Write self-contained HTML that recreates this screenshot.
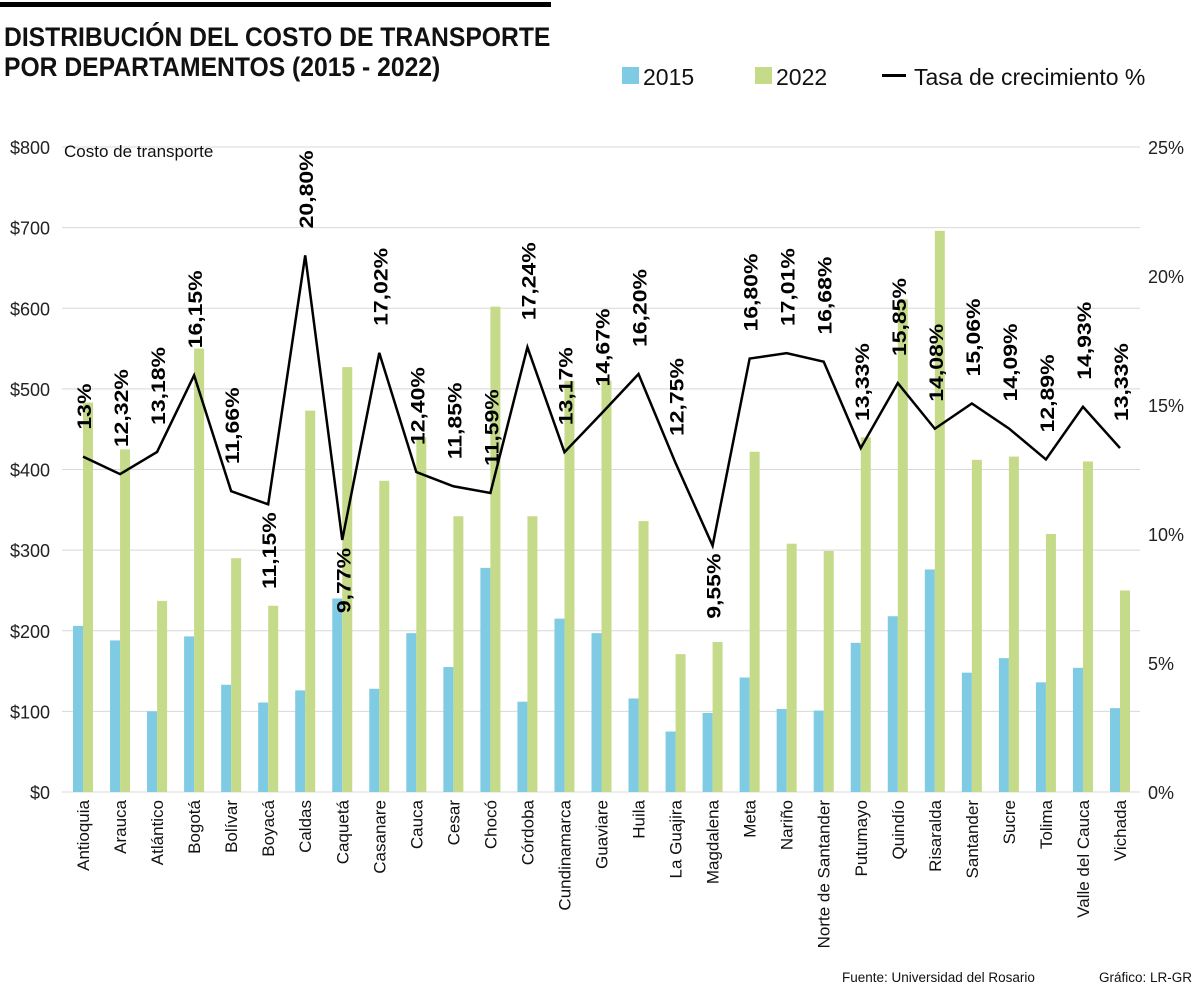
<!DOCTYPE html>
<html><head><meta charset="utf-8"><style>
html,body{margin:0;padding:0;background:#fff}
svg{display:block}
text{font-family:"Liberation Sans",sans-serif}
</style></head><body>
<svg width="1200" height="993" viewBox="0 0 1200 993" xmlns="http://www.w3.org/2000/svg">
<rect x="0" y="2" width="551" height="5" fill="#000"/>
<g transform="translate(4,0) scale(0.915,1)">
<text x="0" y="46" font-size="27" font-weight="bold" fill="#111">DISTRIBUCIÓN DEL COSTO DE TRANSPORTE</text>
<text x="0" y="76" font-size="27" font-weight="bold" fill="#111">POR DEPARTAMENTOS (2015 - 2022)</text>
</g>
<rect x="622" y="67" width="17" height="17" fill="#7ecbe3"/>
<text x="643" y="85" font-size="23" fill="#111">2015</text>
<rect x="755" y="67" width="17" height="17" fill="#c5db8a"/>
<text x="776" y="85" font-size="23" fill="#111">2022</text>
<rect x="882" y="74" width="24" height="3" fill="#000"/>
<text x="914" y="85" font-size="23" fill="#111">Tasa de crecimiento %</text>
<g id="grid" stroke="#d8d8d8" stroke-width="1"></g>
<g id="ax" font-size="18" fill="#222"></g>
<g id="bars"></g>
<polyline id="line" fill="none" stroke="#000" stroke-width="2.5" stroke-linejoin="miter"/>
<g id="lbl" font-size="23" font-weight="bold" fill="#000"></g>
<g id="cat" font-size="17" fill="#111"></g>
<text x="64" y="157" font-size="17" fill="#111">Costo de transporte</text>
<text x="842" y="982" font-size="13.5" fill="#111">Fuente: Universidad del Rosario</text>
<text x="1099" y="982" font-size="13.5" fill="#111">Gráfico: LR-GR</text>
</svg>
<script>
const NS="http://www.w3.org/2000/svg";
function el(p,t,a,txt){const e=document.createElementNS(NS,t);for(const k in a)e.setAttribute(k,a[k]);if(txt!==undefined)e.textContent=txt;document.getElementById(p).appendChild(e);return e;}
const y0=792,ppd=645/800,ppp=645/25;
for(let i=0;i<=8;i++){const y=y0-i*100*ppd;
 el("grid","line",{x1:62,x2:1140,y1:y,y2:y});
 el("ax","text",{x:50,y:y+7,"text-anchor":"end"},"$"+i*100);
}
for(let i=0;i<=5;i++){el("ax","text",{x:1148,y:y0-i*5*ppp+7},i*5+"%");}
const d=[["Antioquia",206,483,"13",13,1],["Arauca",188,425,"12,32",12.32,1],["Atlántico",100,237,"13,18",13.18,1],["Bogotá",193,550,"16,15",16.15,1],["Bolívar",133,290,"11,66",11.66,1],["Boyacá",111,231,"11,15",11.15,0],["Caldas",126,473,"20,80",20.8,1],["Caquetá",240,527,"9,77",9.77,0],["Casanare",128,386,"17,02",17.02,1],["Cauca",197,440,"12,40",12.4,1],["Cesar",155,342,"11,85",11.85,1],["Chocó",278,602,"11,59",11.59,1],["Córdoba",112,342,"17,24",17.24,1],["Cundinamarca",215,510,"13,17",13.17,1],["Guaviare",197,510,"14,67",14.67,1],["Huila",116,336,"16,20",16.2,1],["La Guajira",75,171,"12,75",12.75,1],["Magdalena",98,186,"9,55",9.55,0],["Meta",142,422,"16,80",16.8,1],["Nariño",103,308,"17,01",17.01,1],["Norte de Santander",101,299,"16,68",16.68,1],["Putumayo",185,440,"13,33",13.33,1],["Quindío",218,611,"15,85",15.85,1],["Risaralda",276,696,"14,08",14.08,1],["Santander",148,412,"15,06",15.06,1],["Sucre",166,416,"14,09",14.09,1],["Tolima",136,320,"12,89",12.89,1],["Valle del Cauca",154,410,"14,93",14.93,1],["Vichada",104,250,"13,33",13.33,1]];
const step=1037/28;let pts=[];
d.forEach((r,i)=>{const c=83+i*step;
 el("bars","rect",{x:c-10,y:y0-r[1]*ppd,width:10,height:r[1]*ppd,fill:"#7ecbe3"});
 el("bars","rect",{x:c,y:y0-r[2]*ppd,width:10,height:r[2]*ppd,fill:"#c5db8a"});
 const py=y0-r[4]*ppp;pts.push(c+","+py);
 const ly=r[5]?py-27:py+8;
 el("lbl","text",{x:0,y:0,transform:`translate(${c+8} ${ly}) rotate(-90) scale(1,0.85)`,"text-anchor":r[5]?"start":"end"},r[3]+"%");
 el("cat","text",{x:c+6,y:800,transform:`rotate(-90 ${c+6} 800)`,"text-anchor":"end"},r[0]);
});
document.getElementById("line").setAttribute("points",pts.join(" "));
</script>
</body></html>
